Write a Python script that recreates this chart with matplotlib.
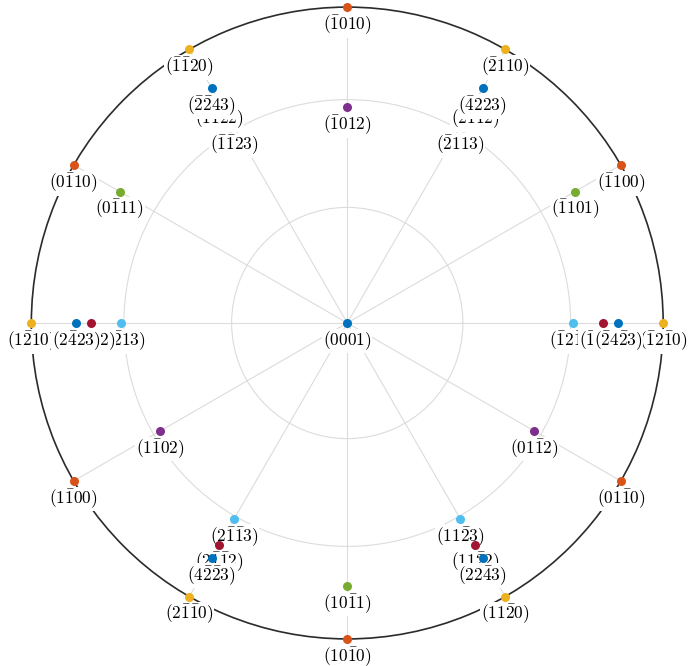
import numpy as np
import matplotlib
matplotlib.use("Agg")
import matplotlib.pyplot as plt

plt.rcParams['mathtext.fontset'] = 'cm'

# ---------------- data ----------------
# each family: azimuth (deg), tilt from [0001] (deg), Miller-Bravais labels
c0001_az = [0]
c0001_tilt = [0]
c0001_lab = [r'$(0001)$']

p1010_az = [90, 30, 330, 270, 210, 150]
p1010_tilt = [90, 90, 90, 90, 90, 90]
p1010_lab = [r'$(\bar{1}010)$', r'$(\bar{1}100)$', r'$(01\bar{1}0)$',
             r'$(10\bar{1}0)$', r'$(1\bar{1}00)$', r'$(0\bar{1}10)$']

p1120_az = [0, 60, 120, 180, 240, 300]
p1120_tilt = [90, 90, 90, 90, 90, 90]
p1120_lab = [r'$(\bar{1}2\bar{1}0)$', r'$(\bar{2}110)$', r'$(\bar{1}\bar{1}20)$',
             r'$(1\bar{2}10)$', r'$(2\bar{1}\bar{1}0)$', r'$(11\bar{2}0)$']

p1012_az = [90, 210, 330]
p1012_tilt = [57.8, 57.8, 57.8]
p1012_lab = [r'$(\bar{1}012)$', r'$(1\bar{1}02)$', r'$(01\bar{1}2)$']

p1011_az = [30, 150, 270]
p1011_tilt = [72.1, 72.1, 72.1]
p1011_lab = [r'$(\bar{1}101)$', r'$(0\bar{1}11)$', r'$(10\bar{1}1)$']

p1123_az = [0, 60, 120, 180, 240, 300]
p1123_tilt = [60.8, 60.8, 60.8, 60.8, 60.8, 60.8]
p1123_lab = [r'$(\bar{1}2\bar{1}3)$', r'$(\bar{2}113)$', r'$(\bar{1}\bar{1}23)$',
             r'$(1\bar{2}13)$', r'$(2\bar{1}\bar{1}3)$', r'$(11\bar{2}3)$']

p1122_az = [0, 60, 120, 180, 240, 300]
p1122_tilt = [69.9, 69.9, 69.9, 69.9, 69.9, 69.9]
p1122_lab = [r'$(\bar{1}2\bar{1}2)$', r'$(\bar{2}112)$', r'$(\bar{1}\bar{1}22)$',
             r'$(1\bar{2}12)$', r'$(2\bar{1}\bar{1}2)$', r'$(11\bar{2}2)$']

p2243_az = [0, 60, 120, 180, 240, 300]
p2243_tilt = [74.7, 74.7, 74.7, 74.7, 74.7, 74.7]
p2243_lab = [r'$(\bar{2}4\bar{2}3)$', r'$(\bar{4}223)$', r'$(\bar{2}\bar{2}43)$',
             r'$(2\bar{4}23)$', r'$(4\bar{2}\bar{2}3)$', r'$(22\bar{4}3)$']

colors = ['#0072BD', '#D95319', '#EDB120', '#7E2F8E', '#77AC30',
          '#4DBEEE', '#A2142F', '#0072BD']

families = [
    (c0001_az, c0001_tilt, c0001_lab),
    (p1010_az, p1010_tilt, p1010_lab),
    (p1120_az, p1120_tilt, p1120_lab),
    (p1012_az, p1012_tilt, p1012_lab),
    (p1011_az, p1011_tilt, p1011_lab),
    (p1123_az, p1123_tilt, p1123_lab),
    (p1122_az, p1122_tilt, p1122_lab),
    (p2243_az, p2243_tilt, p2243_lab),
]

grid_tilts = [30, 60]


def equal_area(tilt_deg):
    t = np.radians(np.asarray(tilt_deg, dtype=float))
    return np.sqrt(2) * np.sin(t / 2)


# ---------------- figure ----------------
fig = plt.figure(figsize=(6.89, 6.66), dpi=100)
ax = fig.add_axes([0.0455, 0.0405, 0.917, 0.949], projection='polar')
ax.set_ylim(0, 1)
ax.set_thetagrids(np.arange(0, 360, 30), labels=[])
ax.set_rgrids(equal_area(grid_tilts), labels=[])
ax.grid(True, color='#dcdcdc', linewidth=0.8)
ax.set_axisbelow(True)
ax.spines['polar'].set_color('#2b2b2b')
ax.spines['polar'].set_linewidth(1.2)
ax.tick_params(length=0)

z = 3
for (az, tilt, lab), col in zip(families, colors):
    th = np.radians(az)
    r = equal_area(tilt)
    ax.plot(th, r, 'o', color=col, ms=6.5, mew=0, linestyle='none',
            zorder=z, clip_on=False)
    z += 1
    for t_, r_, s in zip(th, r, lab):
        ax.annotate(s, (t_, r_), xytext=(0, -13.0), textcoords='offset points',
                    ha='center', va='center', fontsize=12.5, color='black',
                    zorder=z, annotation_clip=False,
                    bbox=dict(boxstyle='square,pad=0.04', fc='white', ec='none'))
    z += 1

fig.savefig('out.png', dpi=100, facecolor='white')
